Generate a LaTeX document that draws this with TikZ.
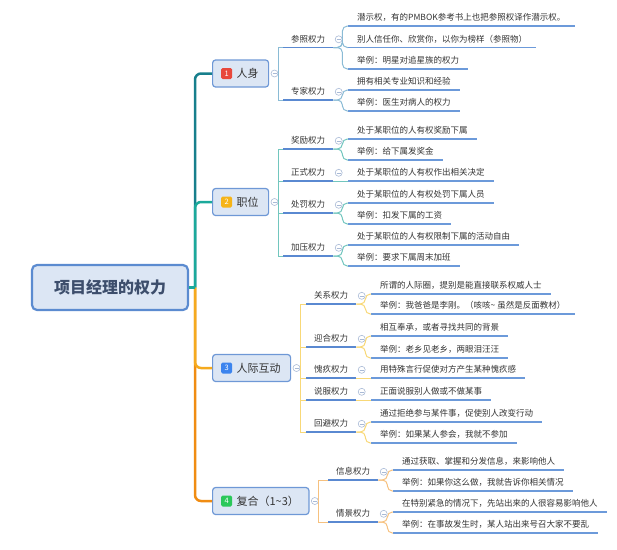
\documentclass[tikz,border=0pt]{standalone}
\usepackage{fontspec}
\setmainfont{Noto Sans CJK SC}
\usepackage{xcolor}
\usetikzlibrary{positioning}
\definecolor{rootline}{HTML}{5B8BD0}
\definecolor{boxfill}{HTML}{DCE6F4}
\definecolor{roottext}{HTML}{3D4E6C}
\definecolor{darktext}{HTML}{333333}
\definecolor{topicline}{HTML}{6E98D6}
\definecolor{subline}{HTML}{5A89D1}
\definecolor{leafline}{HTML}{6C9ADA}
\definecolor{foldgrey}{HTML}{A9BAD6}
\definecolor{trunkA}{HTML}{177F8C}
\definecolor{trunkB}{HTML}{1BA99B}
\definecolor{trunkC}{HTML}{F5AA1E}
\definecolor{trunkD}{HTML}{F08C12}
\definecolor{twigA}{HTML}{8ABBD5}
\definecolor{twigB}{HTML}{72C6BE}
\definecolor{twigC}{HTML}{F8D877}
\definecolor{twigD}{HTML}{F6C17F}
\definecolor{tagred}{HTML}{E8483C}
\definecolor{tagyellow}{HTML}{F6B417}
\definecolor{tagblue}{HTML}{3C84EE}
\definecolor{taggreen}{HTML}{2BC85A}
\tikzset{
	root/.style={draw=rootline,line width=2.2pt,fill=boxfill,rounded corners=5pt,minimum width=156pt,minimum height=45pt,font=\fontsize{16}{18}\selectfont\bfseries,text=roottext},
	topic/.style={draw=topicline,line width=1.2pt,fill=boxfill,rounded corners=3pt,minimum height=27pt,inner xsep=10pt,anchor=west,font=\fontsize{11}{12}\selectfont,text=darktext},
	numtag/.style={fill=#1,rounded corners=1.5pt,minimum size=11pt,inner sep=0pt,text=white,font=\fontsize{7.5}{8}\selectfont},
	sub/.style={anchor=south west,inner xsep=8pt,inner ysep=3.5pt,text height=7.5pt,text depth=1.5pt,font=\fontsize{8.5}{10}\selectfont,text=darktext,
		append after command={(\tikzlastnode.south west) edge[draw=subline,line width=1.7pt] (\tikzlastnode.south east)}},
	leaf/.style={anchor=south west,inner xsep=9pt,inner ysep=3.5pt,text height=7.5pt,text depth=1.5pt,font=\fontsize{8.5}{10}\selectfont,text=darktext,
		append after command={(\tikzlastnode.south west) edge[draw=leafline,line width=1.4pt] (\tikzlastnode.south east)}},
	fold/.style={circle,draw=foldgrey,fill=white,minimum size=7pt,inner sep=0pt,line width=0.6pt,
		path picture={\draw[foldgrey,line width=0.6pt] ([xshift=-2pt]path picture bounding box.center) -- ([xshift=2pt]path picture bounding box.center);}},
	trunk/.style={draw=#1,line width=2.5pt,rounded corners=6pt},
	twig/.style={draw=#1,line width=1pt},
}
\begin{document}
\begin{tikzpicture}[x=1pt,y=-1pt]
	\useasboundingbox (0,0) rectangle (617,549);
	\node[root] (root) at (110,287.5) {项目经理的权力};
	\coordinate (hub) at (195,287.5);

	\node[topic] (rs) at (212,73.5) {\hspace*{14pt}人身};
	\node[numtag=tagred,right=9pt of rs.west] (t1) {1};
	\node[topic] (zw) at (212,202) {\hspace*{14pt}职位};
	\node[numtag=tagyellow,right=9pt of zw.west] (t2) {2};
	\node[topic] (rj) at (212,368) {\hspace*{14pt}人际互动};
	\node[numtag=tagblue,right=9pt of rj.west] (t3) {3};
	\node[topic] (fh) at (212,501) {\hspace*{14pt}复合（1\textasciitilde3）};
	\node[numtag=taggreen,right=9pt of fh.west] (t4) {4};

	\draw[trunk=trunkA] (hub) |- (rs.west);
	\draw[trunk=trunkB] (hub) |- (zw.west);
	\draw[trunk=trunkD] (hub) |- (fh.west);
	\draw[trunk=trunkC] (hub) |- (rj.west);
	\draw[trunkB,line width=2.5pt] (root.east) -- (hub);

	\node[fold,right=1.5pt of rs] (frs) {};
	\node[fold,right=1.5pt of zw] (fzw) {};
	\node[fold,right=1.5pt of rj] (frj) {};
	\node[fold,right=1.5pt of fh] (ffh) {};

	\node[sub] (ck) at (283,47.5) {参照权力};
	\node[sub] (zj) at (283,100) {专家权力};
	\node[leaf] (ck1) at (348,26) {潜示权，有的PMBOK参考书上也把参照权译作潜示权。};
	\node[leaf] (ck2) at (348,47.5) {别人信任你、欣赏你，以你为榜样（参照物）};
	\node[leaf] (ck3) at (348,69) {举例：明星对追星族的权力};
	\node[leaf] (zj1) at (348,90) {拥有相关专业知识和经验};
	\node[leaf] (zj2) at (348,111) {举例：医生对病人的权力};

	\node[sub] (jl) at (283,149) {奖励权力};
	\node[sub] (zs) at (283,181) {正式权力};
	\node[sub] (cf) at (283,213) {处罚权力};
	\node[sub] (jy) at (283,256) {加压权力};
	\node[leaf] (jl1) at (348,139) {处于某职位的人有权奖励下属};
	\node[leaf] (jl2) at (348,160) {举例：给下属发奖金};
	\node[leaf] (zs1) at (348,181) {处于某职位的人有权作出相关决定};
	\node[leaf] (cf1) at (348,203) {处于某职位的人有权处罚下属人员};
	\node[leaf] (cf2) at (348,224) {举例：扣发下属的工资};
	\node[leaf] (jy1) at (348,245) {处于某职位的人有权限制下属的活动自由};
	\node[leaf] (jy2) at (348,266) {举例：要求下属周末加班};

	\node[sub] (gx) at (306,304) {关系权力};
	\node[sub] (yh) at (306,347) {迎合权力};
	\node[sub] (kj) at (306,378) {愧疚权力};
	\node[sub] (sf) at (306,400) {说服权力};
	\node[sub] (hb) at (306,432) {回避权力};
	\node[leaf] (gx1) at (371,294) {所谓的人际圈，提别是能直接联系权威人士};
	\node[leaf] (gx2) at (371,314) {举例：我爸爸是李刚。（咳咳\textasciitilde{} 虽然是反面教材）};
	\node[leaf] (yh1) at (371,336) {相互奉承，或者寻找共同的背景};
	\node[leaf] (yh2) at (371,358) {举例：老乡见老乡，两眼泪汪汪};
	\node[leaf] (kj1) at (371,378) {用特殊言行促使对方产生某种愧疚感};
	\node[leaf] (sf1) at (371,400) {正面说服别人做或不做某事};
	\node[leaf] (hb1) at (371,422) {通过拒绝参与某件事，促使别人改变行动};
	\node[leaf] (hb2) at (371,443) {举例：如果某人参会，我就不参加};

	\node[sub] (xx) at (328,480) {信息权力};
	\node[sub] (qj) at (328,522) {情景权力};
	\node[leaf] (xx1) at (393,470) {通过获取、掌握和分发信息，来影响他人};
	\node[leaf] (xx2) at (393,491) {举例：如果你这么做，我就告诉你相关情况};
	\node[leaf] (qj1) at (393,512) {在特别紧急的情况下，先站出来的人很容易影响他人};
	\node[leaf] (qj2) at (393,533) {举例：在事故发生时，某人站出来号召大家不要乱};

	\draw[twig=twigA] (frs.east) |- (ck.south west);
	\draw[twig=twigA] (frs.east) |- (zj.south west);
	\draw[twig=twigB] (fzw.east) |- (jl.south west);
	\draw[twig=twigB] (fzw.east) |- (zs.south west);
	\draw[twig=twigB] (fzw.east) |- (cf.south west);
	\draw[twig=twigB] (fzw.east) |- (jy.south west);
	\draw[twig=twigC] (frj.east) |- (gx.south west);
	\draw[twig=twigC] (frj.east) |- (yh.south west);
	\draw[twig=twigC] (frj.east) |- (kj.south west);
	\draw[twig=twigC] (frj.east) |- (sf.south west);
	\draw[twig=twigC] (frj.east) |- (hb.south west);
	\draw[twig=twigD] (ffh.east) |- (xx.south west);
	\draw[twig=twigD] (ffh.east) |- (qj.south west);

	\node[fold,right=1.5pt of ck] (fck) {};
	\node[fold,right=1.5pt of zj] (fzj) {};
	\node[fold,right=1.5pt of jl] (fjl) {};
	\node[fold,right=1.5pt of zs] (fzs) {};
	\node[fold,right=1.5pt of cf] (fcf) {};
	\node[fold,right=1.5pt of jy] (fjy) {};
	\node[fold,right=1.5pt of gx] (fgx) {};
	\node[fold,right=1.5pt of yh] (fyh) {};
	\node[fold,right=1.5pt of kj] (fkj) {};
	\node[fold,right=1.5pt of sf] (fsf) {};
	\node[fold,right=1.5pt of hb] (fhb) {};
	\node[fold,right=1.5pt of xx] (fxx) {};
	\node[fold,right=1.5pt of qj] (fqj) {};

	\draw[twig=twigA,rounded corners=5pt] (ck.south east) -- ++(9,0) |- (ck1.south west);
	\draw[twig=twigA,rounded corners=5pt] (ck.south east) -- ++(9,0) |- (ck2.south west);
	\draw[twig=twigA,rounded corners=5pt] (ck.south east) -- ++(9,0) |- (ck3.south west);
	\draw[twig=twigA,rounded corners=5pt] (zj.south east) -- ++(9,0) |- (zj1.south west);
	\draw[twig=twigA,rounded corners=5pt] (zj.south east) -- ++(9,0) |- (zj2.south west);
	\draw[twig=twigB,rounded corners=5pt] (jl.south east) -- ++(9,0) |- (jl1.south west);
	\draw[twig=twigB,rounded corners=5pt] (jl.south east) -- ++(9,0) |- (jl2.south west);
	\draw[twig=twigB] (zs.south east) -- (zs1.south west);
	\draw[twig=twigB,rounded corners=5pt] (cf.south east) -- ++(9,0) |- (cf1.south west);
	\draw[twig=twigB,rounded corners=5pt] (cf.south east) -- ++(9,0) |- (cf2.south west);
	\draw[twig=twigB,rounded corners=5pt] (jy.south east) -- ++(9,0) |- (jy1.south west);
	\draw[twig=twigB,rounded corners=5pt] (jy.south east) -- ++(9,0) |- (jy2.south west);
	\draw[twig=twigC,rounded corners=5pt] (gx.south east) -- ++(9,0) |- (gx1.south west);
	\draw[twig=twigC,rounded corners=5pt] (gx.south east) -- ++(9,0) |- (gx2.south west);
	\draw[twig=twigC,rounded corners=5pt] (yh.south east) -- ++(9,0) |- (yh1.south west);
	\draw[twig=twigC,rounded corners=5pt] (yh.south east) -- ++(9,0) |- (yh2.south west);
	\draw[twig=twigC] (kj.south east) -- (kj1.south west);
	\draw[twig=twigC] (sf.south east) -- (sf1.south west);
	\draw[twig=twigC,rounded corners=5pt] (hb.south east) -- ++(9,0) |- (hb1.south west);
	\draw[twig=twigC,rounded corners=5pt] (hb.south east) -- ++(9,0) |- (hb2.south west);
	\draw[twig=twigD,rounded corners=5pt] (xx.south east) -- ++(9,0) |- (xx1.south west);
	\draw[twig=twigD,rounded corners=5pt] (xx.south east) -- ++(9,0) |- (xx2.south west);
	\draw[twig=twigD,rounded corners=5pt] (qj.south east) -- ++(9,0) |- (qj1.south west);
	\draw[twig=twigD,rounded corners=5pt] (qj.south east) -- ++(9,0) |- (qj2.south west);
\end{tikzpicture}
\end{document}
